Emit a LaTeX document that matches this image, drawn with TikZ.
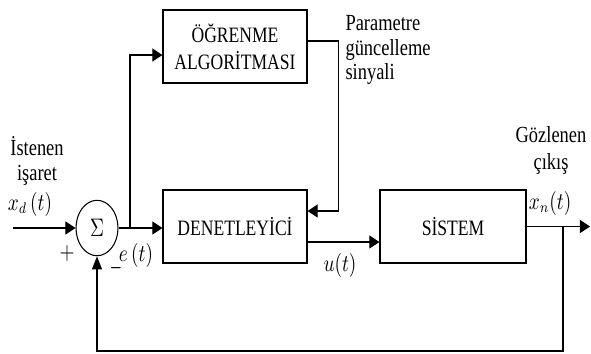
\documentclass[tikz,border=0pt]{standalone}
\usepackage{fontspec}
\setmainfont{Liberation Serif}
\usetikzlibrary{arrows.meta}

\begin{document}
\begin{tikzpicture}[x=0.02cm, y=-0.02cm, line width=0.6pt,
    blok/.style={draw, line width=0.7pt, minimum height=1.168cm, yscale=1.25,
      align=center, font=\fontsize{10}{12.2}\selectfont},
    etiket/.style={inner sep=0pt, yscale=1.25, font=\fontsize{10.5}{11}\selectfont},
    harr/.style={-{Triangle[length=5.7pt,width=7.4pt]}},
    varr/.style={-{Triangle[length=7.4pt,width=5.7pt]}}]
    \useasboundingbox (0,0) rectangle (591,353);

    % Blocks
    \node[blok, minimum width=2.88cm] (ogren) at (235,46.5) {ÖĞRENME\\ALGORİTMASI};
    \node[blok, minimum width=2.88cm] (denet) at (235,226.5) {DENETLEYİCİ};
    \node[blok, minimum width=2.92cm] (sistem) at (453,226.5) {SİSTEM};
    % Summing junction
    \node[draw, circle, minimum size=0.84cm, inner sep=0pt, yscale=1.32,
      font=\fontsize{11}{11}\selectfont] (sum) at (97,228) {$\Sigma$};

    \coordinate (giris) at (13,228);
    \coordinate (dal) at (130,228);
    \coordinate (cikis) at (590,226.5);
    \coordinate (geri) at (563,226.5);
    \coordinate (alt) at (563,351);

    % Signal lines
    \draw[harr] (giris) -- (sum);
    \draw[harr] (sum.east) -- (sum.east -| denet.west);
    \draw[harr] (dal) |- ([yshift=-0.17cm]ogren.west);
    \draw[harr] ([yshift=0.11cm]ogren.east) -- ++(31,0) |- ([yshift=0.31cm]denet.east);
    \draw[harr] ([yshift=-0.31cm]denet.east) -- ([yshift=-0.31cm]sistem.west);
    \draw[harr] (sistem.east) -- (cikis);
    % Feedback
    \draw[varr] (geri) -- (alt) -| (sum.south);

    % Labels
    \node[etiket, align=center] (istenen) at (37,161) {İstenen\\işaret};
    \node[etiket] (xd) at (30,204) {$x_d\,(t)$};
    \node[etiket] (arti) at (67,253) {$+$};
    \node[etiket] (eksi) at (116,271) {–};
    \node[etiket] (et) at (136,255) {$e\,(t)$};
    \node[etiket] (ut) at (340,265) {$u(t)$};
    \node[etiket, anchor=west, align=left] (param) at (345,50) {Parametre\\güncelleme\\sinyali};
    \node[etiket] (gozlenen) at (551,135) {Gözlenen};
    \node[etiket] (cikisyazi) at (551,164) {çıkış};
    \node[etiket] (xn) at (550,203) {$x_n(t)$};
\end{tikzpicture}
\end{document}
